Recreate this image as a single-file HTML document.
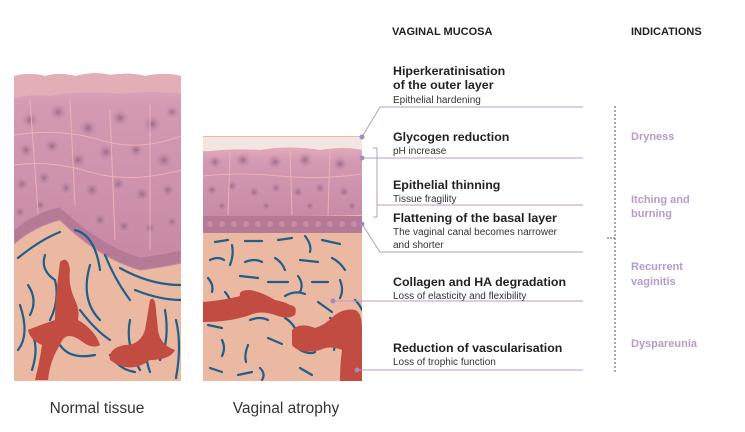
<!DOCTYPE html>
<html><head><meta charset="utf-8"><style>
html,body{margin:0;padding:0;background:#fff;}
svg{display:block;font-family:"Liberation Sans",sans-serif;}
</style></head><body>
<svg width="745" height="432" viewBox="0 0 745 432" xmlns="http://www.w3.org/2000/svg">
<defs>
<radialGradient id="cell" cx="50%" cy="50%" r="50%"><stop offset="0" stop-color="#9c6a8a"/><stop offset="1" stop-color="#d79cb4" stop-opacity="0"/></radialGradient>
<linearGradient id="epi" x1="0" y1="0" x2="0" y2="1"><stop offset="0" stop-color="#e3aabb"/><stop offset="0.2" stop-color="#d49ab2"/><stop offset="1" stop-color="#c78aa6"/></linearGradient>
<clipPath id="cl"><path d="M14 76 Q30 72 45 76 Q60 72 75 76 Q95 71 110 75 Q130 72 145 76 Q165 72 181 76 L181 381 L14 381 Z"/></clipPath>
<clipPath id="cr"><rect x="203" y="136" width="159" height="245"/></clipPath>
</defs>

<!-- LEFT PANEL -->
<g clip-path="url(#cl)">
<rect x="14" y="70" width="167" height="311" fill="#ebb8a2"/>
<path d="M14 70 L181 70 L181 250 Q160 255 140 257 Q100 245 60 207 Q35 212 14 230 Z" fill="url(#epi)"/>
<path d="M14 70 L181 70 L181 94 Q150 90 120 94 Q80 90 50 96 Q30 94 14 98 Z" fill="#e4aeb6"/>
<g fill="url(#cell)">
<circle cx="30" cy="120" r="10"/><circle cx="58" cy="112" r="10"/><circle cx="88" cy="128" r="11"/><circle cx="120" cy="118" r="10"/><circle cx="152" cy="124" r="11"/><circle cx="172" cy="112" r="8"/>
<circle cx="26" cy="150" r="9"/><circle cx="52" cy="146" r="9"/><circle cx="78" cy="160" r="10"/><circle cx="106" cy="152" r="10"/><circle cx="136" cy="150" r="9"/><circle cx="164" cy="160" r="10"/>
<circle cx="22" cy="184" r="8"/><circle cx="44" cy="178" r="8"/><circle cx="66" cy="188" r="8"/><circle cx="92" cy="190" r="9"/><circle cx="118" cy="184" r="8"/><circle cx="142" cy="194" r="9"/><circle cx="168" cy="190" r="8"/>
<circle cx="20" cy="212" r="7"/><circle cx="40" cy="205" r="7"/><circle cx="100" cy="220" r="8"/><circle cx="124" cy="226" r="8"/><circle cx="150" cy="228" r="8"/><circle cx="172" cy="222" r="7"/>
</g>
<g fill="none" stroke="#eeb0b6" stroke-width="1">
<path d="M14 135 Q60 128 100 140 T181 136"/><path d="M14 165 Q50 160 90 172 T181 170"/><path d="M30 100 L40 240 M70 100 L75 205 M110 110 L115 240 M150 105 L150 250"/>
</g>
<path d="M14 230 Q35 212 60 207 Q100 245 140 257 Q160 255 181 250 L181 263 Q160 268 140 270 Q98 258 60 220 Q35 226 14 244 Z" fill="#b47a96" stroke="#c98aa6" stroke-width="1"/>
<g fill="none" stroke="#1f5f8a" stroke-width="2.2" stroke-linecap="round">
<path d="M18 258 Q40 240 60 232"/><path d="M75 230 Q95 235 100 270"/><path d="M45 255 Q40 270 55 280 Q60 300 50 320"/><path d="M28 285 Q38 300 30 315"/><path d="M20 305 Q30 335 18 350"/><path d="M90 265 Q80 300 100 320"/><path d="M105 255 Q115 280 130 300"/><path d="M120 268 Q150 285 181 285"/><path d="M135 290 Q160 300 181 300"/><path d="M80 310 Q95 330 110 340"/><path d="M60 345 Q70 360 95 355"/><path d="M130 320 Q125 345 140 370"/><path d="M165 310 Q170 340 160 360"/><path d="M110 355 Q120 370 135 372"/><path d="M30 330 Q40 345 32 370"/><path d="M150 330 Q142 350 150 372"/><path d="M176 320 Q182 345 176 378"/></g>
<g fill="#c24b42">
<path d="M60 262 Q68 255 70 270 Q68 285 75 300 Q80 310 78 320 Q95 330 100 345 Q92 350 80 340 Q65 330 60 345 Q50 360 48 380 L35 380 Q40 360 42 345 Q30 340 28 330 Q40 325 55 320 Q55 300 60 262 Z"/>
<path d="M150 300 Q155 295 156 310 L158 330 Q160 345 175 350 Q170 360 150 360 Q130 375 110 360 Q108 348 125 345 Q140 345 145 330 Z"/>
</g>
</g>

<!-- RIGHT PANEL -->
<g clip-path="url(#cr)">
<rect x="203" y="136" width="159" height="245" fill="#ebb8a2"/>
<rect x="203" y="137" width="159" height="14" fill="#f3e6e2"/>
<path d="M203 152 Q230 148 260 150 Q290 145 320 150 Q345 146 362 150 L362 215 L203 218 Z" fill="url(#epi)"/>
<g fill="url(#cell)">
<circle cx="215" cy="162" r="8"/><circle cx="243" cy="160" r="9"/><circle cx="275" cy="162" r="9"/><circle cx="305" cy="160" r="9"/><circle cx="340" cy="164" r="9"/>
<circle cx="212" cy="190" r="7"/><circle cx="232" cy="186" r="7"/><circle cx="254" cy="192" r="7"/><circle cx="276" cy="188" r="7"/><circle cx="298" cy="192" r="7"/><circle cx="320" cy="188" r="7"/><circle cx="344" cy="192" r="7"/>
<circle cx="222" cy="206" r="6"/><circle cx="266" cy="206" r="6"/><circle cx="310" cy="206" r="6"/><circle cx="352" cy="206" r="6"/>
</g>
<g fill="none" stroke="#eeb0b6" stroke-width="1"><path d="M203 176 Q240 172 280 176 T362 174"/><path d="M230 152 L228 215 M290 150 L292 215 M330 150 L328 215"/></g>
<rect x="203" y="216" width="159" height="17" fill="#b47a96"/>
<g fill="#c98aa6"><circle cx="210" cy="224" r="3"/><circle cx="222" cy="224" r="3"/><circle cx="234" cy="224" r="3"/><circle cx="246" cy="224" r="3"/><circle cx="258" cy="224" r="3"/><circle cx="270" cy="224" r="3"/><circle cx="282" cy="224" r="3"/><circle cx="294" cy="224" r="3"/><circle cx="306" cy="224" r="3"/><circle cx="318" cy="224" r="3"/><circle cx="330" cy="224" r="3"/><circle cx="342" cy="224" r="3"/><circle cx="354" cy="224" r="3"/></g>
<g fill="none" stroke="#1f5f8a" stroke-width="2.2" stroke-linecap="round">
<path d="M215 242 L228 240"/><path d="M245 241 L262 241"/><path d="M278 240 L292 238"/><path d="M305 236 Q312 245 310 252"/><path d="M322 240 L340 244"/><path d="M232 245 Q234 255 230 265"/><path d="M210 260 Q218 256 224 260"/><path d="M245 262 Q255 258 262 262"/><path d="M275 258 Q282 262 285 270"/><path d="M300 260 L318 262"/><path d="M332 258 Q340 262 345 270"/><path d="M208 278 Q214 285 212 292"/><path d="M240 276 L258 278"/><path d="M268 282 L288 282"/><path d="M298 276 Q304 284 300 292"/><path d="M312 282 L328 282"/><path d="M340 280 Q344 290 340 298"/><path d="M225 292 Q232 300 230 308"/><path d="M285 296 Q295 290 305 294"/><path d="M318 302 L332 312"/><path d="M355 300 Q360 305 362 310"/><path d="M208 325 L222 328"/><path d="M250 320 Q260 316 268 320"/><path d="M285 318 Q292 322 296 330"/><path d="M330 318 Q338 322 340 316"/><path d="M222 340 Q226 348 222 356"/><path d="M248 345 Q244 355 246 362"/><path d="M268 338 L282 344"/><path d="M300 350 Q310 355 315 352"/><path d="M330 338 Q336 344 334 350"/><path d="M210 368 L222 372"/><path d="M260 368 Q266 374 262 380"/><path d="M300 368 L312 375"/><path d="M238 375 L252 372"/></g>
<g fill="#c24b42">
<path d="M203 302 Q225 300 240 296 Q238 290 250 290 Q262 292 275 300 Q285 302 290 305 Q298 306 295 315 Q288 320 275 315 Q260 310 250 315 Q230 322 203 322 Z"/>
<path d="M292 330 Q300 322 315 328 Q325 325 335 315 Q345 308 355 310 Q362 312 362 330 L362 381 L340 381 Q340 365 342 350 Q330 345 320 350 Q300 355 292 345 Z"/>
</g>
</g>

<!-- Leader lines -->
<g stroke="#b49cc8" stroke-width="1" fill="none">
<path d="M362 137 L380 107 L583 107"/>
<path d="M362 158 L583 158"/>
<path d="M373 148 L377 148 L377 217 L373 217"/>
<path d="M377 205 L583 205"/>
<path d="M362 224 L380 252 L583 252"/>
<path d="M333 301 L583 301"/>
<path d="M357 370 L583 370"/>
</g>
<g fill="#a68bc0"><circle cx="362" cy="137" r="2.5"/><circle cx="362" cy="158" r="2.5"/><circle cx="362" cy="224" r="2.5"/><circle cx="333" cy="301" r="2.5"/><circle cx="357" cy="370" r="2.5"/></g>
<path d="M615 106 L615 372" stroke="#555" stroke-width="1" stroke-dasharray="2,2"/>
<path d="M607 238 L615 238" stroke="#555" stroke-width="1" stroke-dasharray="2,1"/>

<!-- Headers -->
<g font-weight="bold" font-size="11" fill="#222">
<text x="392" y="35">VAGINAL MUCOSA</text>
<text x="631" y="35">INDICATIONS</text>
</g>
<g font-size="12.4" font-weight="bold" fill="#222">
<text x="393" y="75">Hiperkeratinisation</text>
<text x="393" y="89">of the outer layer</text>
<text x="393" y="141">Glycogen reduction</text>
<text x="393" y="189">Epithelial thinning</text>
<text x="393" y="222">Flattening of the basal layer</text>
<text x="393" y="286">Collagen and HA degradation</text>
<text x="393" y="352">Reduction of vascularisation</text>
</g>
<g font-size="10" fill="#333">
<text x="393" y="103">Epithelial hardening</text>
<text x="393" y="154">pH increase</text>
<text x="393" y="202">Tissue fragility</text>
<text x="393" y="235">The vaginal canal becomes narrower</text>
<text x="393" y="248">and shorter</text>
<text x="393" y="299">Loss of elasticity and flexibility</text>
<text x="393" y="365">Loss of trophic function</text>
</g>
<g font-size="11" font-weight="bold" fill="#b49cc8">
<text x="631" y="140">Dryness</text>
<text x="631" y="203">Itching and</text>
<text x="631" y="217">burning</text>
<text x="631" y="270">Recurrent</text>
<text x="631" y="285">vaginitis</text>
<text x="631" y="347">Dyspareunia</text>
</g>
<g font-size="15.5" fill="#333" text-anchor="middle">
<text x="97" y="413">Normal tissue</text>
<text x="286" y="413">Vaginal atrophy</text>
</g>
</svg>
</body></html>
